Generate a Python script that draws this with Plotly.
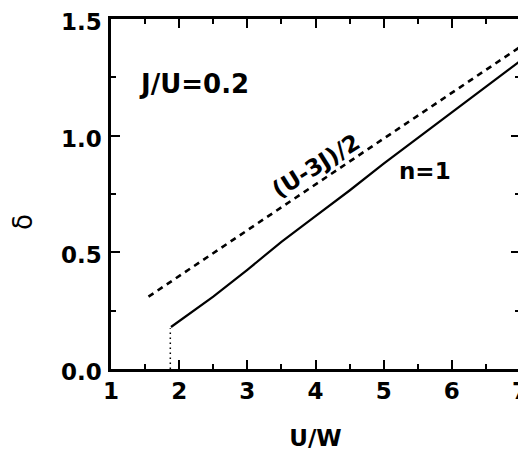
import plotly.graph_objects as go

# Data
u_nm = [1.88, 2.5, 3.0, 3.5, 4.0, 4.5, 5.0, 5.5, 6.0, 6.5, 7.0]
delta_nm = [0.18, 0.31, 0.425, 0.545, 0.655, 0.765, 0.88, 0.99, 1.10, 1.21, 1.32]

u_ref = [1.55, 7.0]
delta_ref = [0.31, 1.38]

u_jump = [1.87, 1.87]
delta_jump = [0.0, 0.175]

FONT = "DejaVu Sans"

fig = go.Figure()
fig.add_trace(go.Scatter(x=u_ref, y=delta_ref, mode="lines",
                         line=dict(color="black", width=2.6, dash="6px,5px"),
                         showlegend=False))
fig.add_trace(go.Scatter(x=u_nm, y=delta_nm, mode="lines",
                         line=dict(color="black", width=2.2),
                         showlegend=False))
fig.add_trace(go.Scatter(x=u_jump, y=delta_jump, mode="lines",
                         line=dict(color="black", width=1.5, dash="1.5px,3.5px"),
                         showlegend=False))

axis_common = dict(
    showline=True, linecolor="black", linewidth=2.5, mirror="ticks",
    ticks="inside", ticklen=9, tickwidth=2, tickcolor="black",
    showgrid=False, zeroline=False, automargin=False,
    ticklabeloverflow="allow",
    tickfont=dict(family=FONT, size=23, color="black", weight="bold"),
)

fig.update_xaxes(range=[1, 7], dtick=1, tick0=1,
                 minor=dict(ticks="inside", ticklen=5, tickwidth=2, dtick=0.5, tickcolor="black"),
                 title=dict(text="U/W", font=dict(family=FONT, size=23, color="black", weight="bold"),
                            standoff=27),
                 ticklabelstandoff=0,
                 **axis_common)
fig.update_yaxes(range=[0, 1.5], dtick=0.5, tick0=0, tickformat=".1f",
                 minor=dict(ticks="inside", ticklen=5, tickwidth=2, dtick=0.25, tickcolor="black"),
                 ticklabelstandoff=2, ticklabelshift=3,
                 **axis_common)

fig.add_annotation(x=1.38, y=1.22, xref="x", yref="y", text="J/U=0.2",
                   showarrow=False, xanchor="left", yanchor="middle",
                   font=dict(family=FONT, size=26, color="black", weight="bold"))
fig.add_annotation(x=4.0, y=0.87, xref="x", yref="y", text="(U-3J)/2",
                   showarrow=False, textangle=-32, xanchor="center", yanchor="middle",
                   font=dict(family=FONT, size=23, color="black", weight="bold"))
fig.add_annotation(x=5.61, y=0.85, xref="x", yref="y", text="n=1",
                   showarrow=False, xanchor="center", yanchor="middle",
                   font=dict(family=FONT, size=23, color="black", weight="bold"))
fig.add_annotation(x=-0.215, y=0.42, xref="paper", yref="paper", text="δ",
                   showarrow=False, textangle=-90, xanchor="center", yanchor="middle",
                   font=dict(family=FONT, size=26, color="black"))

# The page body adds an 8px offset; margins compensate so the plot area
# sits at the same place in the 526x452 window as in the reference.
fig.update_layout(template="none", width=526, height=452, autosize=False,
                  margin=dict(l=103, r=14, t=11, b=91),
                  paper_bgcolor="white", plot_bgcolor="white")

fig.write_html("out.html")
